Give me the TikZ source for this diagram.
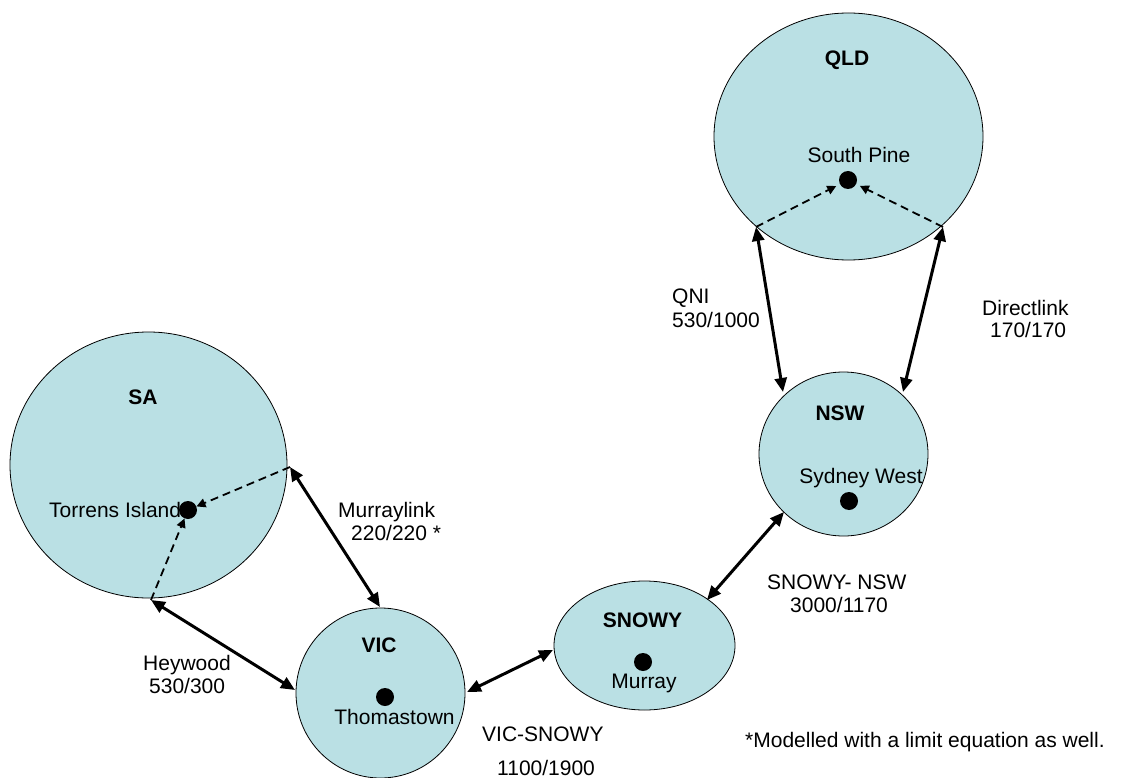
\documentclass[tikz,border=0pt]{standalone}
\usepackage{fontspec}
\setmainfont{Liberation Sans}
\usetikzlibrary{arrows.meta,shapes.geometric}
\definecolor{regfill}{RGB}{186,224,228}
\begin{document}
\begin{tikzpicture}[x=1pt,y=-1pt,
  region/.style={ellipse, draw=black, line width=0.8pt, fill=regfill, inner sep=0pt, outer sep=0pt},
  hub/.style={circle, fill=black, inner sep=0pt, minimum size=18pt},
  lbl/.style={inner sep=0pt, text height=15pt, text depth=0pt, font=\fontsize{21}{25}\selectfont},
  blbl/.style={lbl, font=\fontsize{21}{25}\selectfont\bfseries},
  link/.style={line width=3pt, {Triangle[length=14pt,width=12pt]}-{Triangle[length=14pt,width=12pt]}},
  flow/.style={line width=1.8pt, dash pattern=on 8pt off 5pt, -{Triangle[length=9pt,width=9pt]}}
]
\useasboundingbox (0,0) rectangle (1124,778);

% regions
\node[region, minimum width=277pt, minimum height=266pt] (sa) at (148.5,465) {};
\node[region, minimum width=269pt, minimum height=247pt] (qld) at (848.5,136.5) {};
\node[region, minimum width=169pt, minimum height=164pt] (nsw) at (843.5,454) {};
\node[region, minimum width=169pt, minimum height=170pt] (vic) at (380.5,693) {};
\node[region, minimum width=181pt, minimum height=129pt] (snowy) at (644.5,645.5) {};

% region names
\node[blbl] (saname) at (143,397) {SA};
\node[blbl] (qldname) at (847,58) {QLD};
\node[blbl] (nswname) at (840,413) {NSW};
\node[blbl] (vicname) at (379,645) {VIC};
\node[blbl] (snowyname) at (642.5,620) {SNOWY};

% hub names
\node[lbl, anchor=west] (torrens) at (49,510) {Torrens Island};
\node[lbl] (southpine) at (859,155) {South Pine};
\node[lbl] (sydney) at (861,476) {Sydney West};
\node[lbl] (thomas) at (394.5,717) {Thomastown};
\node[lbl] (murray) at (644,681) {Murray};

% hubs
\node[hub] (tdot) at (188,510) {};
\node[hub] (spdot) at (848,180) {};
\node[hub] (swdot) at (849,501) {};
\node[hub] (thdot) at (385,697) {};
\node[hub] (mudot) at (643,662) {};

% border points
\coordinate (saR) at (290,467);
\coordinate (saB) at (151,600);
\coordinate (vicT) at (380,607);
\coordinate (vicL) at (295,690);
\coordinate (vicR) at (467,692);
\coordinate (snL) at (553,650);
\coordinate (snUR) at (707,600);
\coordinate (nswLL) at (784,512);
\coordinate (nswTL) at (783,392);
\coordinate (nswTR) at (903,392);
\coordinate (qldL) at (756,227);
\coordinate (qldR) at (943,227);

% interconnectors
\draw[link] (saR) -- (vicT);
\draw[link] (saB) -- (vicL);
\draw[link] (vicR) -- (snL);
\draw[link] (snUR) -- (nswLL);
\draw[link] (nswTL) -- (qldL);
\draw[link] (nswTR) -- (qldR);

% flows to reference nodes
\draw[flow] (saR) -- (tdot);
\draw[flow] (saB) -- (tdot);
\draw[flow, shorten >=4pt] (qldL) -- (spdot);
\draw[flow, shorten >=4pt] (qldR) -- (spdot);

% link labels
\node[lbl, anchor=west] (qni1) at (672,296) {QNI};
\node[lbl, anchor=west] (qni2) at (672,320) {530/1000};
\node[lbl, anchor=west] (dl1) at (982,308) {Directlink};
\node[lbl, anchor=west] (dl2) at (990,330) {170/170};
\node[lbl, anchor=west] (ml1) at (338,510) {Murraylink};
\node[lbl, anchor=west] (ml2) at (351,533) {220/220 *};
\node[lbl, anchor=west] (hw1) at (143,662.5) {Heywood};
\node[lbl, anchor=west] (hw2) at (149,685.5) {530/300};
\node[lbl, anchor=west] (vs1) at (482,734) {VIC-SNOWY};
\node[lbl, anchor=west] (vs2) at (497,767.5) {1100/1900};
\node[lbl, anchor=west] (sn1) at (767,582) {SNOWY- NSW};
\node[lbl, anchor=west] (sn2) at (790,604.5) {3000/1170};
\node[lbl, anchor=west] (note) at (745,740) {*Modelled with a limit equation as well.};
\end{tikzpicture}
\end{document}
